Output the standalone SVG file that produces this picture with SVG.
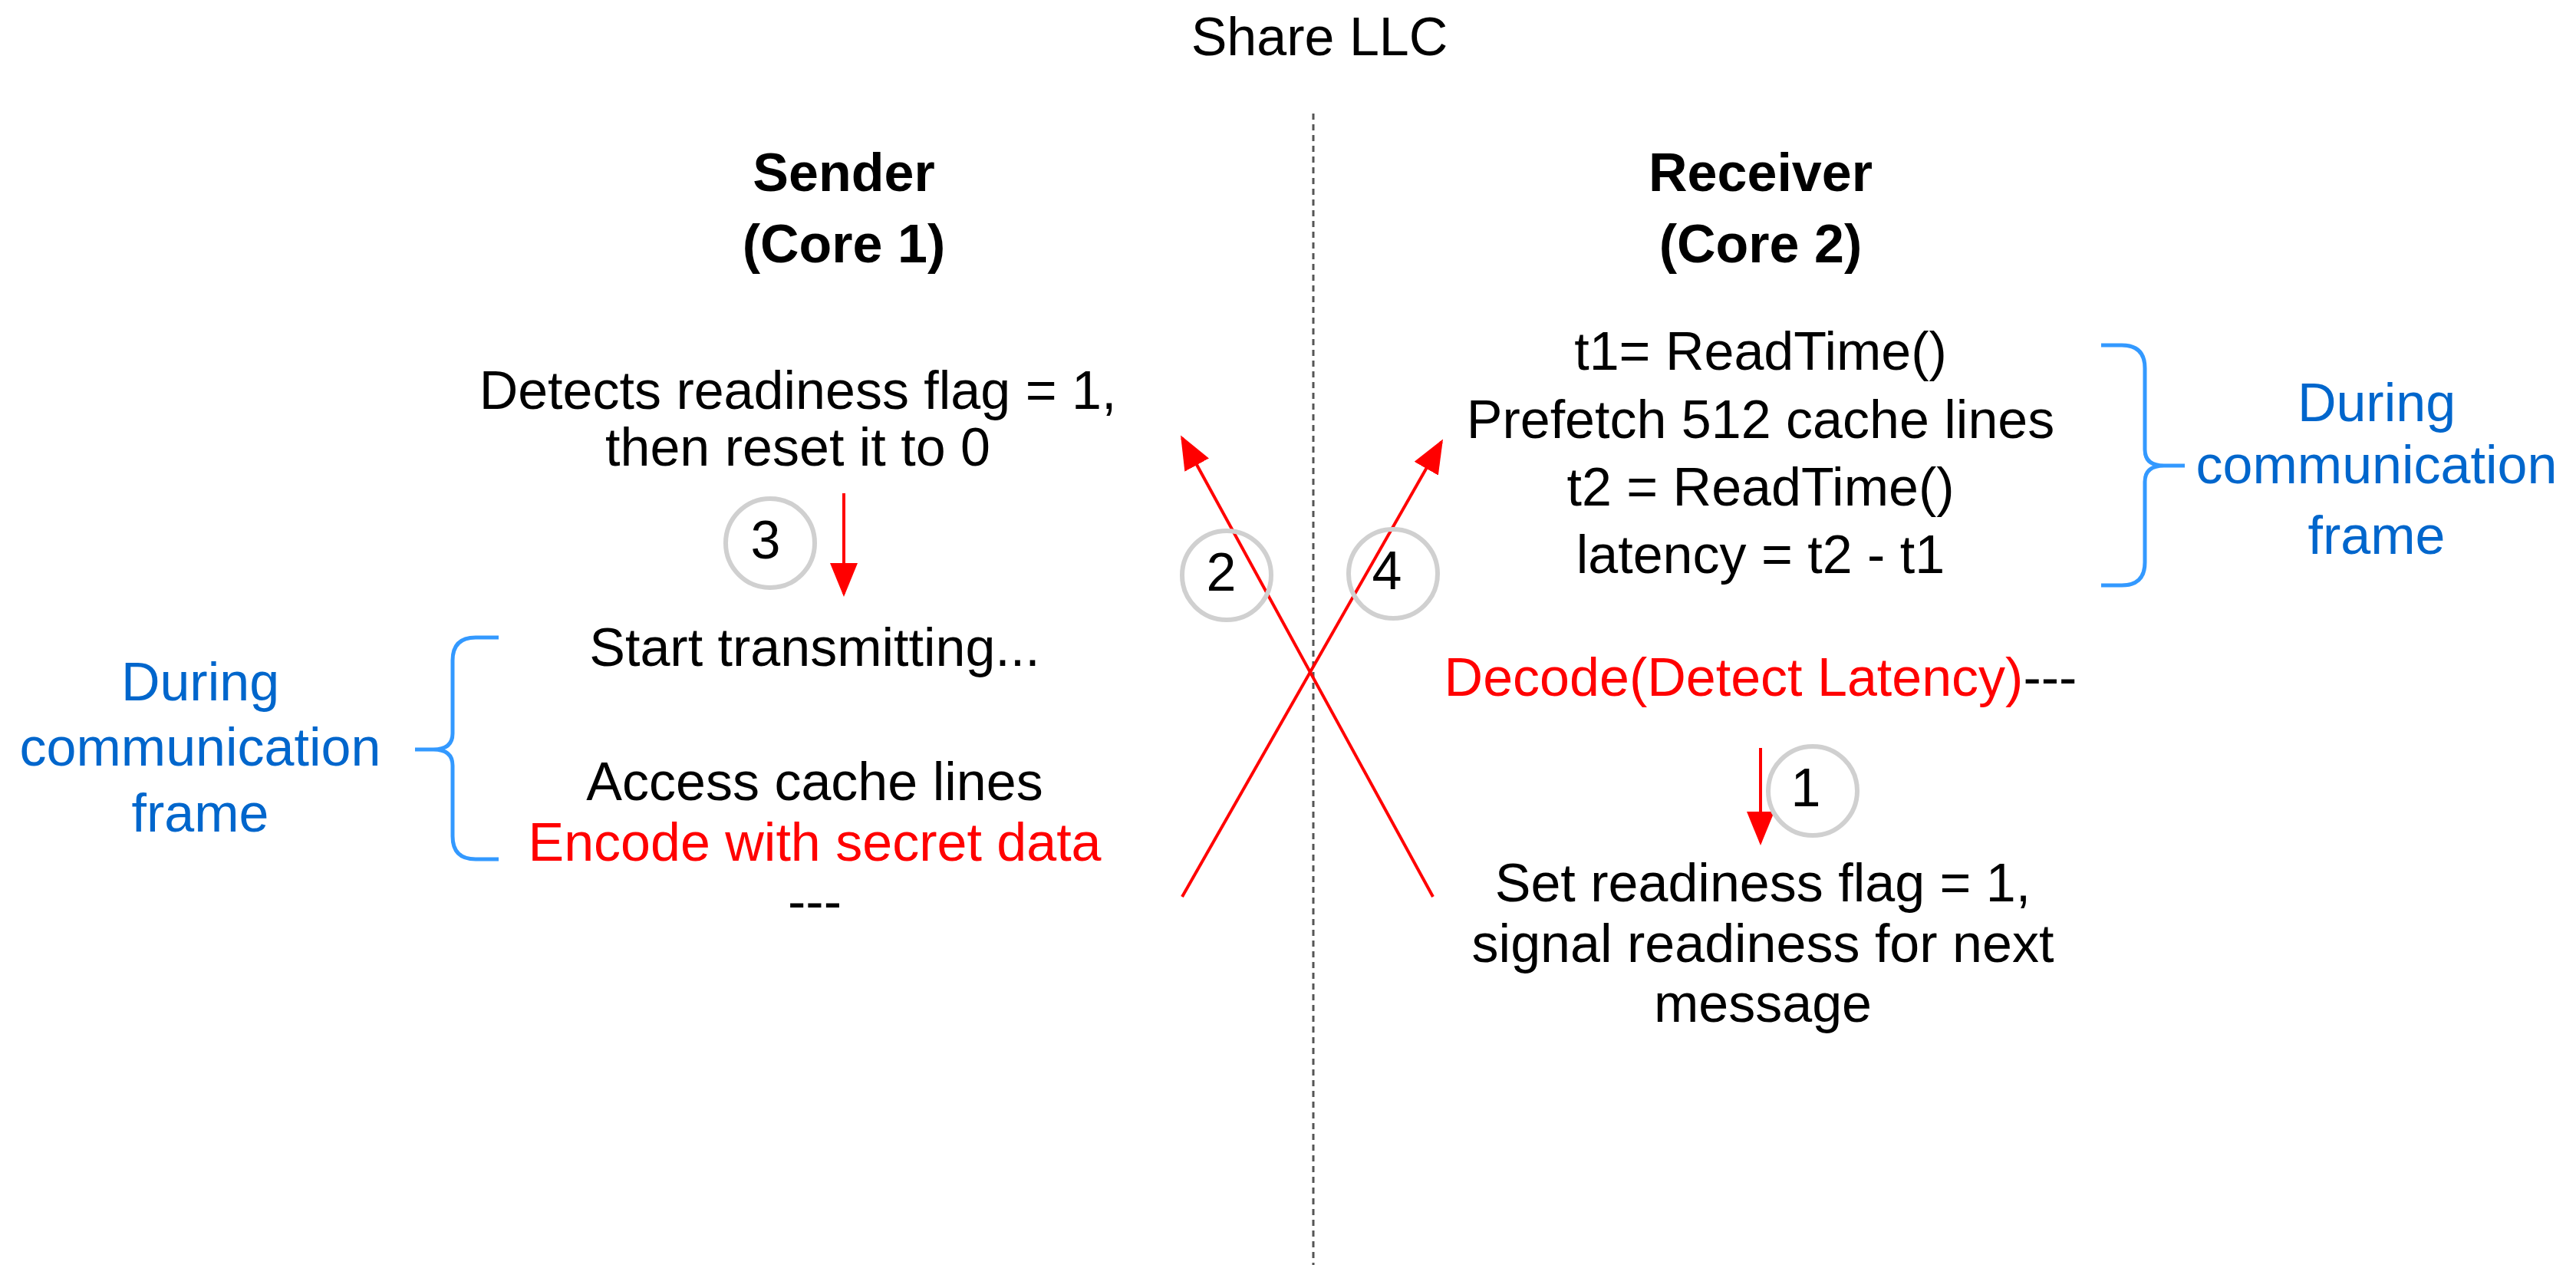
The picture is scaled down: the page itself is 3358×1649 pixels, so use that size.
<svg xmlns="http://www.w3.org/2000/svg" width="3358" height="1649" viewBox="0 0 3358 1649">
<style>
text{font-family:"Liberation Sans",Arial,sans-serif;font-size:70px;text-anchor:middle;fill:#000}
.b{font-weight:bold}
.r{fill:#ff0000}
.bl{fill:#0066cc}
.c{fill:none;stroke:#d0d0d0;stroke-width:6}
.br{fill:none;stroke:#3399ff;stroke-width:5}
.a{stroke:#ff0000;stroke-width:4;fill:none;marker-end:url(#ah)}
</style>
<defs>
<marker id="ah" markerUnits="userSpaceOnUse" markerWidth="44" markerHeight="36" refX="40" refY="18" orient="auto" viewBox="0 0 44 36">
<path d="M0,0 L44,18 L0,36 Z" fill="#ff0000"/>
</marker>
</defs>
<rect width="3358" height="1649" fill="#fff"/>
<g id="title"><text x="1720" y="72">Share LLC</text></g>
<g id="connectors">
<line x1="1712" y1="148" x2="1712" y2="1649" stroke="#555" stroke-width="3" stroke-dasharray="8 6"/>
<line class="a" x1="1100" y1="643" x2="1100" y2="774"/>
<line class="a" x1="2295" y1="975" x2="2295" y2="1098"/>
<line class="a" x1="1868" y1="1169" x2="1541" y2="571"/>
<line class="a" x1="1541" y1="1169" x2="1879" y2="576"/>
</g>
<g id="sender"><text class="b" x="1100" y="249">Sender</text><text class="b" x="1100" y="342">(Core 1)</text></g>
<g id="receiver"><text class="b" x="2295" y="249">Receiver</text><text class="b" x="2295" y="342">(Core 2)</text></g>
<g id="detects"><text x="1040" y="533">Detects readiness flag = 1,</text><text x="1040" y="607">then reset it to 0</text></g>
<g id="step3"><circle class="c" cx="1004" cy="708" r="58"/><text x="998" y="728">3</text></g>
<g id="step2"><circle class="c" cx="1599" cy="750" r="58"/><text x="1592" y="770">2</text></g>
<g id="step4"><circle class="c" cx="1816" cy="748" r="58"/><text x="1808" y="768">4</text></g>
<g id="step1"><circle class="c" cx="2363" cy="1031" r="58"/><text x="2354" y="1051">1</text></g>
<g id="transmit">
<text x="1062" y="868">Start transmitting...</text>
<text x="1062" y="1043">Access cache lines</text>
<text class="r" x="1062" y="1122">Encode with secret data</text>
<text x="1062" y="1199">---</text>
</g>
<g id="leftbrace">
<path class="br" d="M650,831 H620 Q590,831 590,861 V956 Q590,977 565,977 H541 M565,977 Q590,977 590,998 V1090 Q590,1120 620,1120 H650"/>
<text class="bl" x="261" y="913">During</text><text class="bl" x="261" y="998">communication</text><text class="bl" x="261" y="1084">frame</text>
</g>
<g id="receive">
<text x="2295" y="482">t1= ReadTime()</text>
<text x="2295" y="571">Prefetch 512 cache lines</text>
<text x="2295" y="659">t2 = ReadTime()</text>
<text x="2295" y="747">latency = t2 - t1</text>
</g>
<g id="rightbrace">
<path class="br" d="M2739,450 H2766 Q2796,450 2796,480 V586 Q2796,607 2821,607 H2848 M2821,607 Q2796,607 2796,628 V733 Q2796,763 2766,763 H2739"/>
<text class="bl" x="3098" y="549">During</text><text class="bl" x="3098" y="630">communication</text><text class="bl" x="3098" y="722">frame</text>
</g>
<g id="decode"><text x="2295" y="907"><tspan class="r">Decode(Detect Latency)</tspan>---</text></g>
<g id="setflag">
<text x="2298" y="1175">Set readiness flag = 1,</text>
<text x="2298" y="1254">signal readiness for next</text>
<text x="2298" y="1332">message</text>
</g>
</svg>
